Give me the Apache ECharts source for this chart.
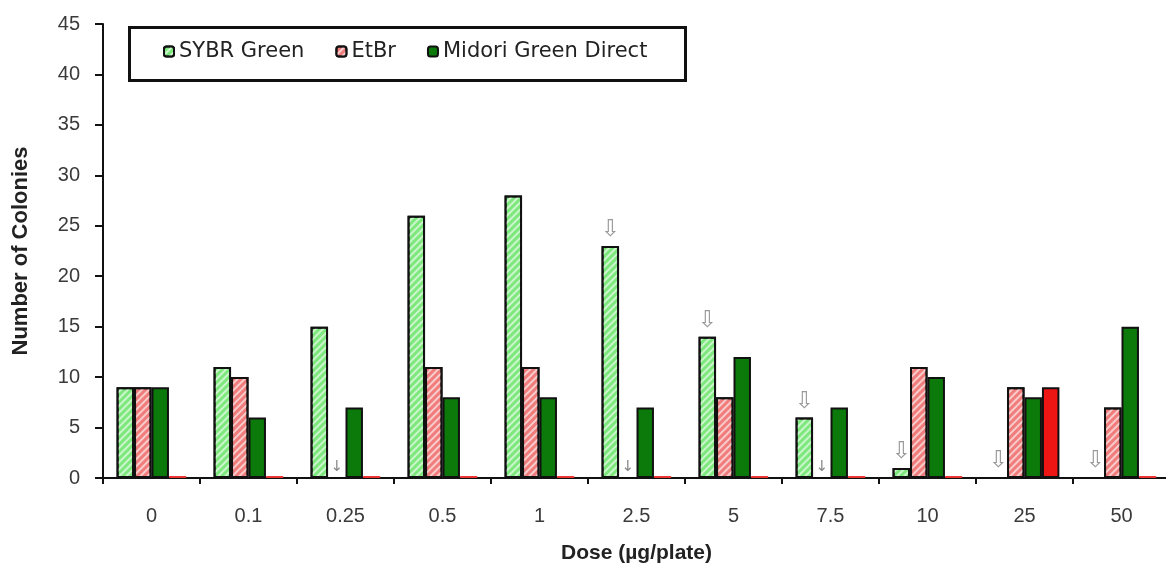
<!DOCTYPE html>
<html>
<head>
<meta charset="utf-8">
<script src="https://cdn.jsdelivr.net/npm/echarts@6/dist/echarts.min.js"></script>
<style>
html,body{margin:0;padding:0;background:#fff;}
#chart{width:1166px;height:572px;}
</style>
</head>
<body>
<div id="chart"></div>
<script>
const categories = ['0', '0.1', '0.25', '0.5', '1', '2.5', '5', '7.5', '10', '25', '50'];
const sybrGreen = [9, 11, 15, 26, 28, 23, 14, 6, 1, 0, 0];
const etBr = [9, 10, 0, 11, 11, 0, 8, 0, 11, 9, 7];
const midori = [9, 6, 7, 8, 8, 7, 12, 7, 10, 8, 15];
const extraRed = [0, 0, 0, 0, 0, 0, 0, 0, 0, 9, 0];
const yTicks = [0, 5, 10, 15, 20, 25, 30, 35, 40, 45];
// categories where a hollow arrow marks the SYBR Green bar
const sybrArrowCats = ['2.5', '5', '7.5', '10', '25', '50'];
// categories where a thin arrow marks the EtBr slot
const etbrArrowCats = ['0.25', '2.5', '7.5'];

const hatch = {
  symbol: 'rect',
  color: 'rgba(255,255,255,0.6)',
  dashArrayX: [1, 0],
  dashArrayY: [2, 3],
  rotation: -Math.PI / 4,
  symbolSize: 1
};

function withArrows(values, cats, glyph, style) {
  return values.map((v, i) => {
    if (cats.indexOf(categories[i]) >= 0) {
      return { value: v, label: Object.assign({ show: true, position: 'top', formatter: glyph }, style) };
    }
    return v;
  });
}

const chart = echarts.init(document.getElementById('chart'));
chart.setOption({
  animation: false,
  backgroundColor: '#fff',
  grid: { left: 103, right: -4, top: 24, bottom: 94, containLabel: false, outerBoundsMode: 'none' },
  graphic: [{
    type: 'rect', left: 127, top: 25, z: 100,
    shape: { width: 556, height: 53 },
    style: { fill: 'none', stroke: '#111', lineWidth: 3 }
  }],
  legend: {
    data: ['SYBR Green', 'EtBr', 'Midori Green Direct'],
    left: 163, top: 41,
    orient: 'horizontal',
    padding: 0,
    itemWidth: 10, itemHeight: 10, itemGap: 31,
    textStyle: { fontFamily: 'DejaVu Sans', fontSize: 21, color: '#222' }
  },
  xAxis: {
    type: 'category',
    data: categories,
    name: 'Dose (µg/plate)',
    nameLocation: 'middle', nameGap: 65,
    nameTextStyle: { fontFamily: 'Liberation Sans', fontWeight: 'bold', fontSize: 21, color: '#222' },
    axisLine: { lineStyle: { color: '#111', width: 2 } },
    axisTick: { show: true, length: 6, lineStyle: { color: '#111', width: 2 } },
    axisLabel: { margin: 28, fontFamily: 'Liberation Sans', fontSize: 20, color: '#3a3a3a' }
  },
  yAxis: {
    type: 'value',
    min: yTicks[0], max: yTicks[yTicks.length - 1], interval: 5,
    name: 'Number of Colonies',
    nameLocation: 'middle', nameGap: 71,
    nameTextStyle: { fontFamily: 'Liberation Sans', fontWeight: 'bold', fontSize: 22, color: '#222' },
    splitLine: { show: false },
    axisLine: { show: true, lineStyle: { color: '#111', width: 2 } },
    axisTick: { show: true, length: 8, lineStyle: { color: '#111', width: 2 } },
    axisLabel: { margin: 23, fontFamily: 'Liberation Sans', fontSize: 20, color: '#3a3a3a' }
  },
  series: [
    {
      name: 'SYBR Green', type: 'bar', barGap: '0%', barCategoryGap: '28%',
      data: withArrows(sybrGreen, sybrArrowCats, '⇩', { color: '#999', fontSize: 23, distance: 4, fontFamily: 'DejaVu Sans' }),
      itemStyle: { color: '#7ee87e', borderColor: '#111', borderWidth: 2, decal: hatch }
    },
    {
      name: 'EtBr', type: 'bar', barGap: '0%', barCategoryGap: '28%',
      data: withArrows(etBr, etbrArrowCats, '↓', { color: '#888', fontSize: 15, distance: 2, fontFamily: 'DejaVu Sans' }),
      itemStyle: { color: '#f07c7c', borderColor: '#111', borderWidth: 2, decal: hatch }
    },
    {
      name: 'Midori Green Direct', type: 'bar', barGap: '0%', barCategoryGap: '28%',
      data: midori,
      itemStyle: { color: '#0b7a0b', borderColor: '#111', borderWidth: 2 }
    },
    {
      name: 'extra', type: 'bar', barGap: '0%', barCategoryGap: '28%',
      data: extraRed.map(v => v === 0 ? { value: v, itemStyle: { borderColor: '#e33', borderWidth: 1 } } : v),
      barMinHeight: 2,
      itemStyle: { color: '#ee1515', borderColor: '#111', borderWidth: 2 }
    }
  ]
});
</script>
</body>
</html>
